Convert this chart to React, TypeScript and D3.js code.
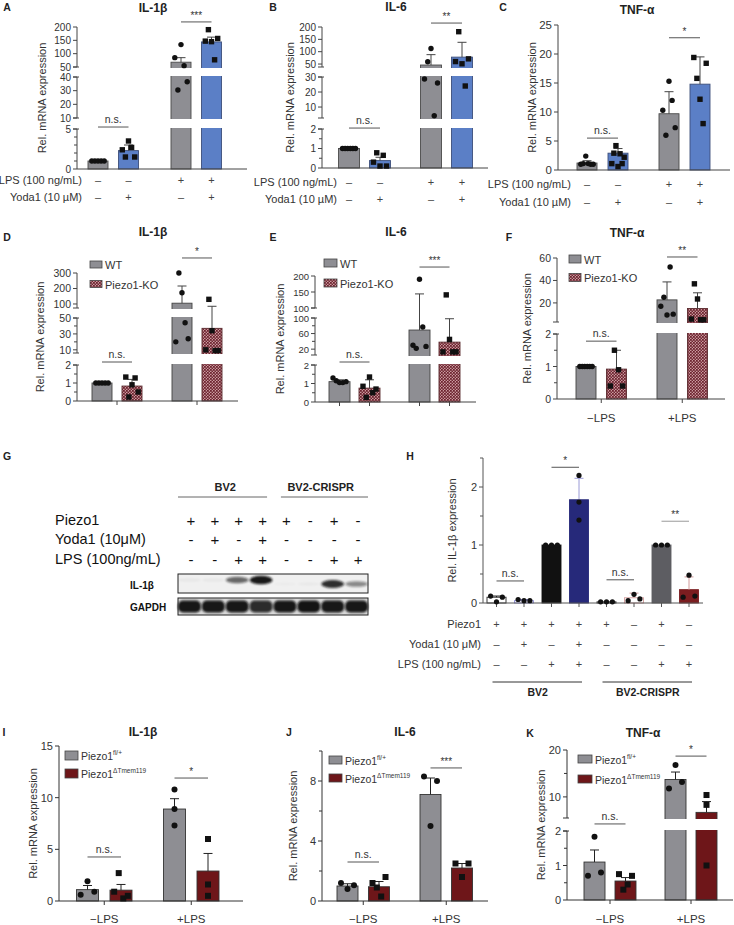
import React from 'react';
import * as d3 from 'd3';

const FONT = "'Liberation Sans', Arial, Helvetica, sans-serif";
const GRAY = '#8e8e93';
const BLUE = '#5b7fc6';
const KO = 'url(#koPattern)';
const DKRED = '#6e1619';

// ---------- Row 1 (A–C): Yoda1 ± LPS ----------
const LPS_SIGNS = ['–', '–', '+', '+'];
const YODA_SIGNS = ['–', '+', '–', '+'];

const A_MEAN = [1.0, 2.3, 68, 144];
const A_ERR = [1.05, 3.0, 85, 162];
const A_PTS = [[1, 1, 1, 1, 1], [2.4, 1.5, 3.5, 2.7, 1.5], [85, 30.5, 134, 55, 36.5], [147, 190, 145, 77, 157]];
const A_YDOM = [0, 5, 10, 40, 50, 200];
const A_TICKS = [0, 5, 10, 20, 30, 40, 50, 100, 150, 200];
const A_MINOR = [1, 2, 3, 4];
const A_SIG = [5.9, 219];

const B_MEAN = [1.0, 0.38, 46, 78];
const B_ERR = [1.02, 0.55, 88, 138];
const B_PTS = [[1, 1, 1, 1, 1, 1], [0.3, 0.78, 0.1, 0.65, 0.1], [28.7, 59, 113, 4.2, 26], [60, 181, 51, 24, 71]];
const B_YDOM = [0, 2, 2.7, 30, 38, 200];
const B_TICKS = [0, 1, 2, 10, 20, 30, 50, 100, 150, 200];
const B_MINOR = [0.5, 1.5];
const B_SIG = [2.06, 216];

const C_MEAN = [1.2, 2.9, 9.7, 14.8];
const C_ERR = [1.6, 3.7, 13.5, 19.5];
const C_PTS = [[1.0, 1.1, 2.4, 1.1, 1.0, 1.0], [1.1, 2.9, 4.2, 0.6, 2.8, 1.1, 2.2], [10.3, 6, 15.3, 12, 7.3], [19.4, 15.8, 12.2, 8, 18.4]];
const C_YDOM = [0, 25];
const C_TICKS = [0, 5, 10, 15, 20, 25];
const C_SIG = [5.5, 22.8];

// ---------- Row 2 (D–F): WT vs Piezo1-KO ----------
const D_MEAN = [1.0, 0.83, 105, 37];
const D_ERR = [1.03, 1.2, 216, 85];
const D_PTS = [[1, 1, 1, 1, 1], [1.33, 0.22, 0.9, 1.28, 0.5], [20, 300, 172, 44, 24], [10, 130, 34, 9, 9]];
const D_YDOM = [0, 2, 6, 50, 74, 300];
const D_TICKS = [0, 1, 2, 10, 30, 50, 100, 200, 300];
const D_MINOR = [0.5, 1.5, 20, 40];
const D_SIG = [3, 397];

const E_MEAN = [1.1, 0.75, 69, 38];
const E_ERR = [1.2, 1.2, 144, 98];
const E_PTS = [[1.3, 1.15, 1.05, 1.05, 1.1], [0.85, 0.25, 1.35, 0.5, 0.7], [30, 22, 190, 77, 27], [13, 141, 45, 13, 13]];
const E_YDOM = [0, 2, 5, 99.9, 100, 200];
const E_TICKS = [0, 1, 2, 20, 60, 99.9, 100, 150, 200];
const E_MINOR = [0.5, 1.5, 40, 80];
const E_SIG = [2.9, 228];

const F_MEAN = [1.0, 0.92, 22.7, 15];
const F_ERR = [1.02, 1.5, 38.7, 29];
const F_PTS = [[1, 1, 1, 1, 1, 1], [0.4, 1.5, 0.9, 0.4], [17, 25, 9.3, 52, 10], [5.6, 37, 23.5, 5, 5]];
const F_YDOM = [0, 2, 3, 60];
const F_TICKS = [0, 1, 2, 20, 40, 60];
const F_MINOR = [0.5, 1.5];
const F_SIG = [1.78, 60.9];

const LPS_GROUPS = ['−LPS', '+LPS'];

// ---------- G: western blot ----------
const G_PIEZO = ['+', '+', '+', '+', '+', '-', '+', '-'];
const G_YODA = ['-', '+', '-', '+', '-', '-', '-', '-'];
const G_LPS = ['-', '-', '+', '+', '-', '-', '+', '+'];
const G_IL1B = [0.04, 0.04, 0.6, 0.95, 0.02, 0.03, 0.85, 0.45];
const G_GAPDH = [0.95, 0.95, 0.95, 0.85, 0.95, 0.97, 0.95, 0.95];

// ---------- H: Rel. IL-1β expression ----------
const H_MEAN = [0.1, 0.04, 1.0, 1.78, 0.02, 0.09, 1.0, 0.23];
const H_ERR = [0.12, 0.06, 1.0, 2.15, 0.02, 0.17, 1.0, 0.45];
const H_PTS = [[0.12, 0.02, 0.1], [0.06, 0.04, 0.04], [1, 1, 1], [2.2, 1.74, 1.43], [0.02, 0.02, 0.02], [0.04, 0.15, 0.07], [1, 1, 1], [0.1, 0.48, 0.12]];
const H_PIEZO = ['+', '+', '+', '+', '+', '–', '+', '–'];
const H_YODA = ['–', '+', '–', '+', '–', '–', '–', '–'];
const H_LPS = ['–', '–', '+', '+', '–', '–', '+', '+'];
const H_SIG = [0.38, 2.34, 0.4, 1.41];

// ---------- Row 4 (I–K): Piezo1 fl/+ vs ΔTmem119 ----------
const I_MEAN = [1.1, 1.05, 8.9, 2.9];
const I_ERR = [1.5, 1.6, 9.9, 4.6];
const I_PTS = [[0.6, 1.9, 0.9], [0.9, 2.7, 0.25, 0.5], [10.8, 8.9, 7.3], [6.0, 1.6, 0.5]];
const I_SIG = [4.26, 11.9];

const J_MEAN = [1.0, 0.95, 7.1, 2.2];
const J_ERR = [1.15, 1.3, 8.2, 2.5];
const J_PTS = [[1.2, 0.8, 1.05], [1.2, 0.9, 0.3, 1.6], [8.3, 5.0, 8.0], [2.5, 1.6, 2.5]];
const J_SIG = [2.6, 8.87];

const K_MEAN = [1.1, 0.55, 13.7, 6.7];
const K_ERR = [1.45, 0.65, 15.3, 9];
const K_PTS = [[0.7, 1.83, 0.8], [0.75, 0.3, 0.45, 0.7], [11.8, 16.8, 13.2], [10.4, 8.3, 1.0]];
const K_YDOM = [0, 2, 5.5, 20];
const K_TICKS = [0, 1, 2, 10, 20];
const K_MINOR = [0.5, 1.5, 15];
const K_SIG = [3.9, 18.7];

// ------------------------------------------------------------------
type Sig = { a: number; b: number; label: string; v: number; color?: string };
type RowLab = { name: string; signs: string[]; y: number };
type LegItem = { fill: string; label: any };

const flox = (<tspan>Piezo1<tspan fontSize={6.5} dy={-4}>fl/+</tspan></tspan>);
const cko = (<tspan>Piezo1<tspan fontSize={6.5} dy={-4}>ΔTmem119</tspan></tspan>);

function Panel({ p }: { p: any }) {
  const y = d3.scaleLinear().domain(p.yDom).range(p.yRng);
  const n = p.means.length;
  const bx = (k: number) => p.x0 + Math.floor(k / p.per) * p.groupStep + (k % p.per) * p.step;
  const half = p.yDom.length / 2;
  const segs = d3.range(half).map((i) => [p.yDom[2 * i], p.yDom[2 * i + 1]]);
  const gaps = d3.range(half - 1).map((i) => [p.yDom[2 * i + 1], p.yDom[2 * i + 2]]);
  const y0 = y(0);
  const nG = Math.ceil(n / p.per);
  const gc = d3.range(nG).map((g) => (bx(g * p.per) + bx(Math.min(n - 1, g * p.per + p.per - 1))) / 2);
  const midY = (p.yRng[0] + p.yRng[p.yRng.length - 1]) / 2;
  const lab = (v: number) => (v >= 10 ? String(Math.round(v)) : String(v));
  const ax = p.axisColor || '#444';
  const ink = '#222';
  const endTicks: number[] = [];
  gaps.forEach(([lo, hi]) => { endTicks.push(lo, hi); });
  const xTickPos = p.xTicks === 'group' ? gc : p.xTicks === 'bar' ? d3.range(n).map(bx) : [];
  return (
    <g>
      <text x={p.letterX} y={p.letterY} fontWeight="bold" fontSize={10.5} textAnchor="middle" dominantBaseline="central" fill={ink}>{p.letter}</text>
      {p.title ? <text x={p.titleX} y={p.titleY} fontWeight="bold" fontSize={12} textAnchor="middle" dominantBaseline="central" fill={ink}>{p.title}</text> : null}
      {p.means.map((m: number, k: number) => (
        <rect key={'b' + k} x={bx(k) - p.barW / 2} y={y(m)} width={p.barW} height={Math.max(0.6, y0 - y(m))}
          fill={p.fills[k]} stroke={p.strokes[k]} strokeWidth={0.9} />
      ))}
      {gaps.map(([lo, hi], i) => (
        <rect key={'g' + i} x={p.axisX + 1} y={y(hi) + 1} width={p.xEnd - p.axisX} height={Math.max(0, y(lo) - y(hi) - 2)} fill="#fff" />
      ))}
      {segs.map(([lo, hi], i) => (
        <line key={'s' + i} x1={p.axisX} x2={p.axisX} y1={y(lo)} y2={y(hi)} stroke={ax} strokeWidth={1} />
      ))}
      {endTicks.map((v, i) => (
        <line key={'e' + i} x1={p.axisX - 4} x2={p.axisX + 2} y1={y(v)} y2={y(v)} stroke={ax} strokeWidth={1} />
      ))}
      {p.minor.map((v: number, i: number) => (
        <line key={'m' + i} x1={p.axisX - 3} x2={p.axisX} y1={y(v)} y2={y(v)} stroke={ax} strokeWidth={1} />
      ))}
      {p.ticks.map((v: number, i: number) => (
        <g key={'t' + i}>
          <line x1={p.axisX - 4} x2={p.axisX} y1={y(v)} y2={y(v)} stroke={ax} strokeWidth={1} />
          <text x={p.axisX - 6} y={y(v)} fontSize={p.tickSize} textAnchor="end" dominantBaseline="central" fill="#333">{lab(v)}</text>
        </g>
      ))}
      <line x1={p.axisX} x2={p.xEnd} y1={y0} y2={y0} stroke={ax} strokeWidth={1} />
      {xTickPos.map((x: number, i: number) => (
        <line key={'xt' + i} x1={x} x2={x} y1={y0} y2={y0 + 4} stroke={ax} strokeWidth={1} />
      ))}
      {p.means.map((m: number, k: number) => {
        const e = p.errs[k];
        if (!(e > m)) return null;
        const c = p.errColors[k];
        return (
          <g key={'er' + k}>
            <line x1={bx(k)} x2={bx(k)} y1={y(m)} y2={y(e)} stroke={c} strokeWidth={1} />
            <line x1={bx(k) - 4.5} x2={bx(k) + 4.5} y1={y(e)} y2={y(e)} stroke={c} strokeWidth={1} />
          </g>
        );
      })}
      {p.pts.map((arr: number[], k: number) => {
        const w = p.barW * 0.62 * p.spread[k];
        return arr.map((v, i) => {
          const x = bx(k) + (arr.length > 1 ? (i / (arr.length - 1) - 0.5) * w : 0);
          const r = p.ptR;
          return p.shapes[k] === 'square'
            ? <rect key={'p' + k + '_' + i} x={x - r} y={y(v) - r} width={2 * r} height={2 * r} fill="#111" />
            : <circle key={'p' + k + '_' + i} cx={x} cy={y(v)} r={r} fill="#111" />;
        });
      })}
      {p.sigs.map((s: Sig, i: number) => (
        <g key={'sg' + i}>
          <line x1={bx(s.a)} x2={bx(s.b)} y1={y(s.v)} y2={y(s.v)} stroke={s.color || '#555'} strokeWidth={1} />
          <text x={(bx(s.a) + bx(s.b)) / 2} y={y(s.v) - (s.label === 'n.s.' ? 4 : 3)} fontSize={s.label === 'n.s.' ? 10.5 : 10}
            textAnchor="middle" fill="#333">{s.label}</text>
        </g>
      ))}
      <text transform={`translate(${p.ylabelX},${midY}) rotate(-90)`} fontSize={11} textAnchor="middle" dominantBaseline="central" fill="#333">{p.ylabel}</text>
      {(p.rows || []).map((r: RowLab, i: number) => (
        <g key={'r' + i}>
          <text x={p.rowRight} y={r.y} fontSize={p.rowSize} textAnchor="end" dominantBaseline="central" fill="#333">{r.name}</text>
          {r.signs.map((sg, k) => (
            <text key={k} x={bx(k)} y={r.y} fontSize={p.rowSize} textAnchor="middle" dominantBaseline="central" fill="#444">{sg}</text>
          ))}
        </g>
      ))}
      {(p.groupLabels || []).map((g: string, i: number) => (
        <text key={'gl' + i} x={gc[i]} y={p.groupLabelY} fontSize={11.5} textAnchor="middle" dominantBaseline="central" fill="#333">{g}</text>
      ))}
      {(p.brackets || []).map((b: any, i: number) => (
        <g key={'br' + i}>
          <line x1={bx(b.from) - 4} x2={bx(b.to) + 3} y1={p.bracketY} y2={p.bracketY} stroke="#333" strokeWidth={1} />
          <text x={(bx(b.from) + bx(b.to)) / 2} y={p.bracketY + 10} fontSize={10.5} fontWeight="bold" textAnchor="middle" dominantBaseline="central" fill="#222">{b.label}</text>
        </g>
      ))}
      {p.legend && p.legend.items.map((it: LegItem, i: number) => (
        <g key={'lg' + i}>
          <rect x={p.legend.x} y={p.legend.y + i * p.legend.dy} width={p.legend.w} height={p.legend.h} fill={it.fill} stroke="#444" strokeWidth={0.8} />
          <text x={p.legend.x + p.legend.w + 3} y={p.legend.y + i * p.legend.dy + p.legend.h / 2 + 0.5} fontSize={p.legend.fs || 11} dominantBaseline="central" fill="#333">{it.label}</text>
        </g>
      ))}
    </g>
  );
}

const four = (a: any, b: any) => [a, b, a, b];

const row1Common = {
  per: 2, tickSize: 10, ptR: 2.7, spread: [1, 1, 1, 1], xTicks: 'none', rowSize: 11,
  fills: four(GRAY, BLUE), strokes: four('#4a4a4a', '#3d4f7a'), errColors: four('#444', '#444'),
  shapes: four('circle', 'square'),
};

const PANELS: any[] = [
  {
    ...row1Common, letter: 'A', letterX: 7, letterY: 7, title: 'IL-1β', titleX: 153, titleY: 8,
    axisX: 77, xEnd: 247, yDom: A_YDOM, yRng: [169, 129, 118, 77, 67, 27], ticks: A_TICKS, minor: A_MINOR,
    x0: 98, step: 30.5, groupStep: 83, barW: 20, means: A_MEAN, errs: A_ERR, pts: A_PTS,
    sigs: [{ a: 0, b: 1, label: 'n.s.', v: A_SIG[0] }, { a: 2, b: 3, label: '***', v: A_SIG[1] }],
    ylabel: 'Rel. mRNA expression', ylabelX: 42,
    rows: [{ name: 'LPS (100 ng/mL)', signs: LPS_SIGNS, y: 180 }, { name: 'Yoda1 (10 µM)', signs: YODA_SIGNS, y: 197 }], rowRight: 82,
  },
  {
    ...row1Common, letter: 'B', letterX: 273, letterY: 7, title: 'IL-6', titleX: 396, titleY: 7,
    axisX: 322, xEnd: 488, yDom: B_YDOM, yRng: [168, 129, 118, 77, 67, 27], ticks: B_TICKS, minor: B_MINOR,
    x0: 349, step: 31, groupStep: 82, barW: 21, means: B_MEAN, errs: B_ERR, pts: B_PTS,
    sigs: [{ a: 0, b: 1, label: 'n.s.', v: B_SIG[0] }, { a: 2, b: 3, label: '**', v: B_SIG[1] }],
    ylabel: 'Rel. mRNA expression', ylabelX: 290,
    rows: [{ name: 'LPS (100 ng/mL)', signs: LPS_SIGNS, y: 182 }, { name: 'Yoda1 (10 µM)', signs: YODA_SIGNS, y: 199 }], rowRight: 337,
  },
  {
    ...row1Common, tickSize: 11.5, letter: 'C', letterX: 503, letterY: 7, title: 'TNF-α', titleX: 637, titleY: 10,
    axisX: 558, xEnd: 730, yDom: C_YDOM, yRng: [170, 25], ticks: C_TICKS, minor: [],
    x0: 587, step: 31, groupStep: 82, barW: 20, means: C_MEAN, errs: C_ERR, pts: C_PTS,
    sigs: [{ a: 0, b: 1, label: 'n.s.', v: C_SIG[0] }, { a: 2, b: 3, label: '*', v: C_SIG[1] }],
    ylabel: 'Rel. mRNA expression', ylabelX: 532,
    rows: [{ name: 'LPS (100 ng/mL)', signs: LPS_SIGNS, y: 184 }, { name: 'Yoda1 (10 µM)', signs: YODA_SIGNS, y: 202 }], rowRight: 571,
  },
];

const row2Common = {
  per: 2, tickSize: 10.5, ptR: 2.7, spread: [1, 1, 1, 1],
  fills: four(GRAY, KO), strokes: four('#444', '#5a2a2e'), errColors: four('#444', '#444'),
  shapes: four('circle', 'square'), ylabel: 'Rel. mRNA expression',
};
const koLegend = [{ fill: GRAY, label: 'WT' }, { fill: KO, label: 'Piezo1-KO' }];

PANELS.push(
  {
    ...row2Common, letter: 'D', letterX: 7, letterY: 237, title: 'IL-1β', titleX: 153, titleY: 232,
    axisX: 77, xEnd: 238, yDom: D_YDOM, yRng: [401, 365, 353, 318, 308, 273], ticks: D_TICKS, minor: D_MINOR,
    x0: 102, step: 30, groupStep: 80, barW: 20, means: D_MEAN, errs: D_ERR, pts: D_PTS, xTicks: 'group',
    sigs: [{ a: 0, b: 1, label: 'n.s.', v: D_SIG[0] }, { a: 2, b: 3, label: '*', v: D_SIG[1] }],
    ylabelX: 40, legend: { x: 90, y: 261, dy: 19.5, w: 12, h: 7, items: koLegend },
  },
  {
    ...row2Common, tickSize: 9.5, letter: 'E', letterX: 273, letterY: 237, title: 'IL-6', titleX: 396, titleY: 232,
    axisX: 315, xEnd: 476, yDom: E_YDOM, yRng: [402, 365, 355, 318, 308, 276], ticks: E_TICKS, minor: E_MINOR,
    x0: 339.5, step: 30, groupStep: 80, barW: 21, means: E_MEAN, errs: E_ERR, pts: E_PTS, xTicks: 'bar',
    sigs: [{ a: 0, b: 1, label: 'n.s.', v: E_SIG[0] }, { a: 2, b: 3, label: '***', v: E_SIG[1] }],
    ylabelX: 280, legend: { x: 324, y: 259, dy: 20, w: 13, h: 8, items: koLegend },
  },
  {
    ...row2Common, letter: 'F', letterX: 509, letterY: 237, title: 'TNF-α', titleX: 627, titleY: 233,
    axisX: 557, xEnd: 725, yDom: F_YDOM, yRng: [399, 334, 322, 258], ticks: F_TICKS, minor: F_MINOR,
    x0: 586, step: 30.5, groupStep: 81, barW: 20, means: F_MEAN, errs: F_ERR, pts: F_PTS, xTicks: 'group',
    sigs: [{ a: 0, b: 1, label: 'n.s.', v: F_SIG[0] }, { a: 2, b: 3, label: '**', v: F_SIG[1] }],
    ylabelX: 527, legend: { x: 569, y: 255, dy: 18.5, w: 12, h: 8, items: koLegend },
    groupLabels: LPS_GROUPS, groupLabelY: 418,
  },
);

PANELS.push({
  letter: 'H', letterX: 410, letterY: 456, title: '', titleX: 0, titleY: 0,
  axisX: 483, xEnd: 703, yDom: [0, 2.5], yRng: [603, 458], ticks: [0, 1, 2], minor: [0.5, 1.5, 2.5], tickSize: 11,
  per: 8, x0: 496.5, step: 27.5, groupStep: 0, barW: 19, means: H_MEAN, errs: H_ERR, pts: H_PTS, ptR: 2.6,
  spread: [1, 1, 1, 0, 1, 1, 1, 1],
  fills: ['#fff', '#fff', '#111', '#26297a', '#fff', '#fff', '#5d5d62', '#7b1d20'],
  strokes: ['#222', '#8f8fd8', '#111', '#26297a', '#222', '#d29a9a', '#5d5d62', '#7b1d20'],
  errColors: ['#222', '#8f8fd8', '#111', '#9a9ad6', '#222', '#d29a9a', '#5d5d62', '#d29a9a'],
  shapes: ['circle', 'circle', 'circle', 'circle', 'circle', 'circle', 'circle', 'circle'], xTicks: 'bar',
  sigs: [
    { a: 0, b: 1, label: 'n.s.', v: H_SIG[0] }, { a: 2, b: 3, label: '*', v: H_SIG[1] },
    { a: 4, b: 5, label: 'n.s.', v: H_SIG[2] }, { a: 6, b: 7, label: '**', v: H_SIG[3], color: '#999' },
  ],
  ylabel: 'Rel. IL-1β expression', ylabelX: 452, axisColor: '#555',
  rows: [{ name: 'Piezo1', signs: H_PIEZO, y: 624 }, { name: 'Yoda1 (10 μM)', signs: H_YODA, y: 644 }, { name: 'LPS (100 ng/mL)', signs: H_LPS, y: 664 }],
  rowRight: 481, rowSize: 11,
  brackets: [{ from: 0, to: 3, label: 'BV2' }, { from: 4, to: 7, label: 'BV2-CRISPR' }], bracketY: 682,
});

const row4Common = {
  per: 2, tickSize: 11, ptR: 3, fills: four(GRAY, DKRED), strokes: four('#333', '#333'), errColors: four('#222', '#222'),
  shapes: four('circle', 'square'), ylabel: 'Rel. mRNA expression', xTicks: 'group', groupLabels: LPS_GROUPS, groupLabelY: 919,
  axisColor: '#333',
};
const cLegend = [{ fill: GRAY, label: flox }, { fill: DKRED, label: cko }];

PANELS.push(
  {
    ...row4Common, letter: 'I', letterX: 4, letterY: 732, title: 'IL-1β', titleX: 143, titleY: 732,
    axisX: 59, xEnd: 243, yDom: [0, 15], yRng: [901, 746], ticks: [0, 5, 10, 15], minor: [],
    x0: 87.5, step: 33.5, groupStep: 87, barW: 22, means: I_MEAN, errs: I_ERR, pts: I_PTS, spread: [1, 1, 0, 0],
    sigs: [{ a: 0, b: 1, label: 'n.s.', v: I_SIG[0] }, { a: 2, b: 3, label: '*', v: I_SIG[1] }],
    ylabelX: 33, legend: { x: 65, y: 751, dy: 18, w: 13, h: 9, fs: 10.5, items: cLegend },
  },
  {
    ...row4Common, letter: 'J', letterX: 289, letterY: 732, title: 'IL-6', titleX: 405, titleY: 732,
    axisX: 322, xEnd: 488, yDom: [0, 10], yRng: [901, 751], ticks: [0, 4, 8], minor: [2, 6, 10],
    x0: 347.5, step: 31.5, groupStep: 83, barW: 21, means: J_MEAN, errs: J_ERR, pts: J_PTS, spread: [1, 1, 1, 1],
    sigs: [{ a: 0, b: 1, label: 'n.s.', v: J_SIG[0] }, { a: 2, b: 3, label: '***', v: J_SIG[1] }],
    ylabelX: 293, legend: { x: 329, y: 756, dy: 18, w: 13, h: 8, fs: 10.5, items: cLegend },
  },
  {
    ...row4Common, letter: 'K', letterX: 530, letterY: 733, title: 'TNF-α', titleX: 643, titleY: 733,
    axisX: 567, xEnd: 733, yDom: K_YDOM, yRng: [900, 831, 818, 750], ticks: K_TICKS, minor: K_MINOR,
    x0: 594.5, step: 31, groupStep: 81, barW: 21, means: K_MEAN, errs: K_ERR, pts: K_PTS, spread: [1, 1, 1, 0],
    sigs: [{ a: 0, b: 1, label: 'n.s.', v: K_SIG[0] }, { a: 2, b: 3, label: '*', v: K_SIG[1] }],
    ylabelX: 541, legend: { x: 578, y: 755, dy: 20, w: 14, h: 8, fs: 10.5, items: cLegend },
  },
);

function Blot() {
  const lane = d3.scaleBand<number>().domain(d3.range(8)).range([178, 368]).paddingInner(0.04);
  const bw = lane.bandwidth();
  const cx = (i: number) => (lane(i) as number) + bw / 2;
  const rows = [
    { name: 'Piezo1', signs: G_PIEZO, y: 520 },
    { name: 'Yoda1 (10μM)', signs: G_YODA, y: 539 },
    { name: 'LPS (100ng/mL)', signs: G_LPS, y: 559 },
  ];
  return (
    <g>
      <text x={7} y={456} fontWeight="bold" fontSize={10.5} textAnchor="middle" dominantBaseline="central" fill="#222">G</text>
      <text x={(cx(0) + cx(3)) / 2} y={487} fontWeight="bold" fontSize={11} textAnchor="middle" dominantBaseline="central" fill="#222">BV2</text>
      <line x1={lane(0) as number} x2={cx(3) + 6} y1={497} y2={497} stroke="#666" strokeWidth={1} />
      <text x={(cx(4) + cx(7)) / 2} y={487} fontWeight="bold" fontSize={11} textAnchor="middle" dominantBaseline="central" fill="#222">BV2-CRISPR</text>
      <line x1={cx(4) - 4} x2={(lane(7) as number) + bw} y1={497} y2={497} stroke="#666" strokeWidth={1} />
      {rows.map((r, i) => (
        <g key={i}>
          <text x={55} y={r.y} fontSize={14.5} dominantBaseline="central" fill="#111">{r.name}</text>
          {r.signs.map((s, k) => (
            <text key={k} x={cx(k) + 1.5} y={r.y} fontSize={15} textAnchor="middle" dominantBaseline="central" fill="#111">{s}</text>
          ))}
        </g>
      ))}
      <text x={130} y={585} fontWeight="bold" fontSize={10} dominantBaseline="central" fill="#111">IL-1β</text>
      <text x={130} y={607} fontWeight="bold" fontSize={10} dominantBaseline="central" fill="#111">GAPDH</text>
      <rect x={178} y={574} width={190} height={19} fill="#f0f0f0" />
      {G_IL1B.map((v, i) => (
        <ellipse key={'il' + i} cx={cx(i)} cy={i < 4 ? 580 : 584} rx={bw * 0.5} ry={1.5 + 3 * v} fill="#111" opacity={v} filter="url(#blurBand)" />
      ))}
      <rect x={178} y={574} width={190} height={19} fill="none" stroke="#222" strokeWidth={1} />
      <rect x={178} y={598} width={190} height={17} fill="#d9d9d9" />
      {G_GAPDH.map((v, i) => (
        <rect key={'gp' + i} x={lane(i) as number} y={600.5} width={bw} height={12} rx={5} fill="#0c0c0c" opacity={v} filter="url(#blurBand2)" />
      ))}
      <rect x={178} y={598} width={190} height={17} fill="none" stroke="#222" strokeWidth={1} />
    </g>
  );
}

export default function App() {
  return (
    <svg width={734} height={925} viewBox="0 0 734 925" style={{ position: 'absolute', left: 0, top: 0, fontFamily: FONT, background: '#fff' }}>
      <defs>
        <pattern id="koPattern" patternUnits="userSpaceOnUse" width={3} height={3}>
          <rect width={3} height={3} fill="#c99a9e" />
          <rect width={1.8} height={1.8} fill="#6e2430" />
          <rect x={1.5} y={1.5} width={1.5} height={1.5} fill="#6e2430" />
        </pattern>
        <filter id="blurBand" x="-30%" y="-100%" width="160%" height="300%"><feGaussianBlur stdDeviation={1.2} /></filter>
        <filter id="blurBand2" x="-20%" y="-50%" width="140%" height="200%"><feGaussianBlur stdDeviation={0.9} /></filter>
      </defs>
      <rect width={734} height={925} fill="#fff" />
      {PANELS.map((p) => <Panel key={p.letter} p={p} />)}
      <Blot />
    </svg>
  );
}
